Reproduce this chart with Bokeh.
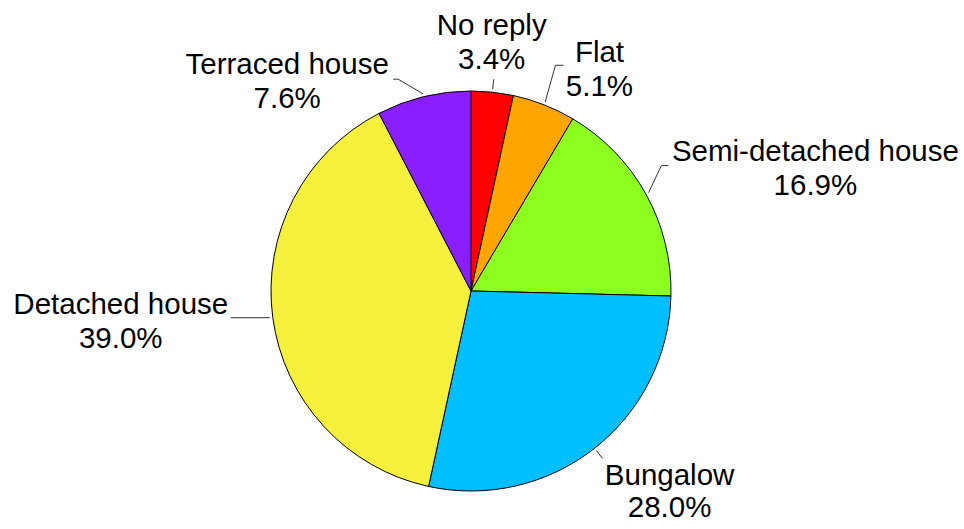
import math
from bokeh.plotting import figure
from bokeh.models import Range1d, ColumnDataSource
from bokeh.core.properties import value
from bokeh.embed import file_html
from bokeh.resources import INLINE

# ---- data ----
categories = ["No reply", "Flat", "Semi-detached house", "Bungalow", "Detached house", "Terraced house"]
shares = [3.4, 5.1, 16.9, 28.0, 39.0, 7.6]
colors = ["#FF0000", "#FFA500", "#8CFF1E", "#00BFFF", "#F4F03C", "#8A1EFF"]

# ---- layout (screen pixels) ----
W, H = 964, 529
CX, CY, R = 470.5, 290.5, 200
LEAD_R0 = 203
elbow_r = [213, 241, 228, 213, 203, 224]
elbow_dtheta = [0, -0.9, -4.4, 0, 0, -5.3]
tail_dx = [0, 8, 7, 0, -39, -5]
label_dx = [-2, 36, 147, 67, -110, -106]
label_dy = [-55, -14, -15, 16, -14, -16]
line_gap = [34, 34, 34, 32, 34, 34]
FONT = "Liberation Sans"


def pt(r, theta_deg):
    t = math.radians(theta_deg)
    return CX + r * math.sin(t), CY - r * math.cos(t)


def fy(y_screen):
    return H - y_screen


total = sum(shares)
starts, ends, mids = [], [], []
cum = 0.0
for s in shares:
    t0 = cum / total * 360.0
    t1 = (cum + s) / total * 360.0
    starts.append(math.radians(90 - t1))
    ends.append(math.radians(90 - t0))
    mids.append((t0 + t1) / 2)
    cum += s

p = figure(width=W, height=H, x_range=Range1d(0, W), y_range=Range1d(0, H),
           output_backend="svg", toolbar_location=None, min_border=0,
           x_axis_type=None, y_axis_type=None)
p.xgrid.visible = False
p.ygrid.visible = False
p.outline_line_color = None
p.background_fill_color = "white"
p.border_fill_color = "white"

src = ColumnDataSource(dict(x=[CX] * len(shares), y=[fy(CY)] * len(shares),
                            start=starts, end=ends, color=colors, cat=categories))
p.wedge(x="x", y="y", radius=R, start_angle="start", end_angle="end",
        fill_color="color", line_color="black", line_width=1, source=src)

xs_l, ys_l = [], []
tx, ty, tt = [], [], []
for i, (cat, s, m) in enumerate(zip(categories, shares, mids)):
    x0, y0 = pt(LEAD_R0, m)
    x1, y1 = pt(elbow_r[i], m + elbow_dtheta[i])
    x2, y2 = x1 + tail_dx[i], y1
    xs_l.append([x0, x1, x2])
    ys_l.append([fy(y0), fy(y1), fy(y2)])
    cx = x2 + label_dx[i]
    yb = y2 + label_dy[i]
    tx += [cx, cx]
    ty += [fy(yb), fy(yb + line_gap[i])]
    tt += [cat, f"{s:.1f}%"]

p.multi_line(xs=xs_l, ys=ys_l, line_color="#333333", line_width=1)
p.text(x=tx, y=ty, text=tt, text_font=value(FONT), text_font_size="29.5px",
       text_align="center", text_baseline="alphabetic", text_color="black")

open("out.html", "w").write(file_html(p, INLINE))
